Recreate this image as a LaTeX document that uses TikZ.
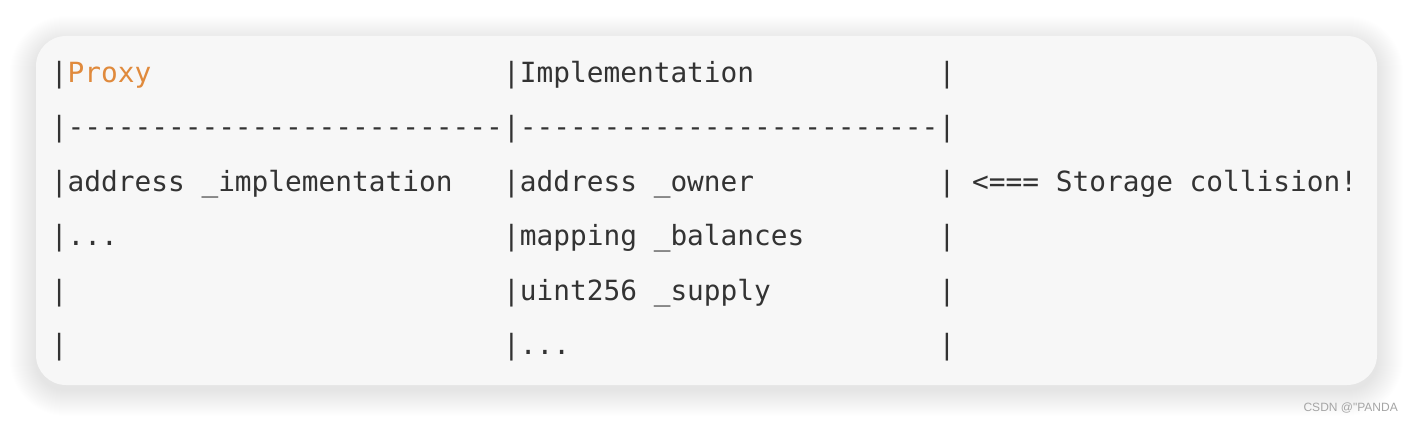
\documentclass[tikz,border=0pt]{standalone}
\usepackage{fontspec}
\setmonofont{DejaVu Sans Mono}
\newfontfamily\wmfont{Liberation Sans}
\definecolor{codetext}{RGB}{51,51,51}
\definecolor{proxyc}{RGB}{224,138,60}
\definecolor{boxbg}{RGB}{247,247,247}
\definecolor{wmgray}{RGB}{165,165,165}
\def\cw{16.75}
\def\cz{50.9}
\begin{document}
\begin{tikzpicture}[x=1pt,y=-1pt,
  code/.style={anchor=base west, inner sep=0pt, outer sep=0pt, text=codetext,
    font=\ttfamily\fontsize{27.8}{30}\selectfont},
  watermark/.style={anchor=base east, inner sep=0pt, text=wmgray,
    font=\wmfont\fontsize{12}{14}\selectfont}]
\useasboundingbox (0,0) rectangle (1414,422);
\fill[white] (0,0) rectangle (1414,422);
% soft shadow
\foreach \i in {1,...,26}{
  \pgfmathsetmacro\rr{30+\i}
  \fill[black, opacity=0.0048, rounded corners=\rr pt]
    (36-\i, 42-\i) rectangle (1377+\i, 390+\i);
}
% code box
\fill[boxbg, rounded corners=30pt] (36,36) rectangle (1377,385);
% row 1
\node[code] (p1) at (\cz, 82.3) {|{\color{proxyc}Proxy}};
\node[code] (i1) at (\cz+27*\cw, 82.3) {|Implementation};
\node[code] (e1) at (\cz+53*\cw, 82.3) {|};
% row 2
\node[code] (d1) at (\cz, 136.8) {|--------------------------};
\node[code] (d2) at (\cz+27*\cw, 136.8) {|-------------------------};
\node[code] (e2) at (\cz+53*\cw, 136.8) {|};
% row 3
\node[code] (a1) at (\cz, 191.2) {|address \_implementation};
\node[code] (a2) at (\cz+27*\cw, 191.2) {|address \_owner};
\node[code] (a3) at (\cz+53*\cw, 191.2) {|};
\node[code] (c3) at (\cz+55*\cw, 191.2) {<=== Storage collision!};
% row 4
\node[code] (b1) at (\cz, 245.7) {|...};
\node[code] (b2) at (\cz+27*\cw, 245.7) {|mapping \_balances};
\node[code] (b3) at (\cz+53*\cw, 245.7) {|};
% row 5
\node[code] (u1) at (\cz, 300.1) {|};
\node[code] (u2) at (\cz+27*\cw, 300.1) {|uint256 \_supply};
\node[code] (u3) at (\cz+53*\cw, 300.1) {|};
% row 6
\node[code] (l1) at (\cz, 354.6) {|};
\node[code] (l2) at (\cz+27*\cw, 354.6) {|...};
\node[code] (l3) at (\cz+53*\cw, 354.6) {|};
% watermark
\node[watermark] (wm) at (1398, 411.7) {CSDN @"PANDA};
\end{tikzpicture}
\end{document}
